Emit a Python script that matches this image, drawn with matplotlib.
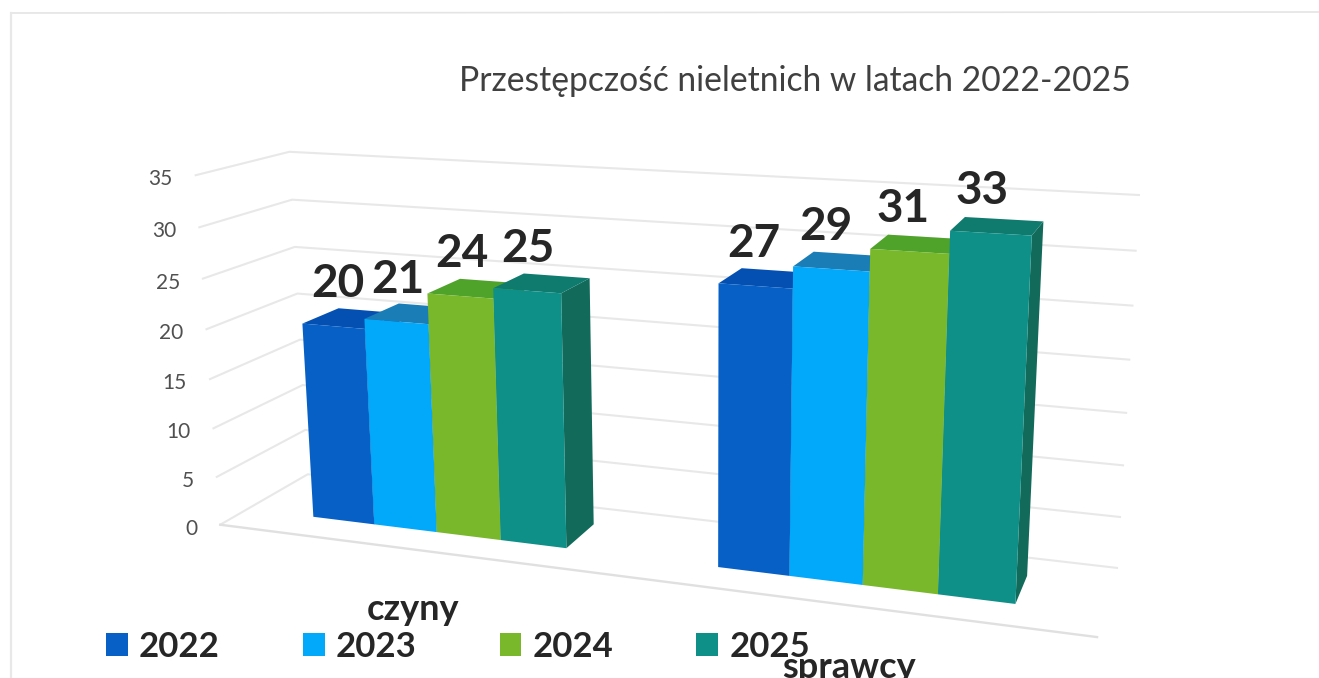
import matplotlib
matplotlib.use("Agg")
import matplotlib.pyplot as plt
import numpy as np
from matplotlib.patches import Patch, Polygon

categories = ["czyny", "sprawcy"]
years = ["2022", "2023", "2024", "2025"]
czyny = [20, 21, 24, 25]
sprawcy = [27, 29, 31, 33]
ticks = [0, 5, 10, 15, 20, 25, 30, 35]
title = "Przestępczość nieletnich w latach 2022-2025"

front_colors = ["#0660C6", "#02A8FA", "#78B82A", "#0E9088"]
top_colors = ["#0350B2", "#1A7DB6", "#4FA32B", "#0F7B6E"]
side_colors = ["#04479A", "#0B6FA8", "#4C8A20", "#126A5A"]

plt.rcParams["font.family"] = ["Lato", "DejaVu Sans"]

# rzutowanie perspektywiczne: (u, wartosc, glebokosc) -> piksele obrazu
v_max = ticks[-1]
anchors = [
    ((0, 0, 0), (220, 525)), ((0, v_max, 0), (196, 175)),
    ((0, 0, 1), (308, 474)), ((0, v_max, 1), (289, 152)),
    ((1, 0, 1), (1117, 568)), ((1, v_max, 1), (1139, 195)),
    ((1, 0, 0), (1097, 637)),
]
rows, rhs = [], []
for (u, v, w), (px, py) in anchors:
    rows.append([u, v, w, 1, 0, 0, 0, 0, -px * u, -px * v, -px * w])
    rows.append([0, 0, 0, 0, u, v, w, 1, -py * u, -py * v, -py * w])
    rhs += [px, py]
m = np.linalg.lstsq(np.array(rows, float), np.array(rhs, float), rcond=None)[0]
m = np.append(m, 1).reshape(3, 4)


def project(u, v, w):
    x, y, z = m @ np.array([u, v, w, 1.0])
    return x / z, y / z


fig = plt.figure(figsize=(13.19, 6.78), dpi=100)
ax = fig.add_axes([0, 0, 1, 1])
ax.set_xlim(0, 1319)
ax.set_ylim(678, 0)
ax.axis("off")

# slady skanu
ax.plot([11, 1319], [13, 12], color="#e4e4e4", lw=1.2, zorder=1)
ax.plot([11, 11], [13, 678], color="#e8e8e8", lw=1.6, zorder=1)

ax.text(795, 81, title, fontsize=24.2, color="#404040", ha="center", va="center")

# siatka
for t in ticks:
    pts = [project(0, t, 0), project(0, t, 1), project(1, t, 1)]
    ax.plot(*zip(*pts), color="#e8e8e8", lw=1.5, zorder=2)
    x, y = project(0, t, 0)
    ax.text(x - 23, y + 4, str(t), fontsize=15, color="#505050", ha="right", va="center")
ax.plot(*zip(project(0, 0, 0), project(1, 0, 0)), color="#e0e0e0", lw=1.7, zorder=2)

# slupki
group_starts = [0.0885, 0.589]
bar_w = 0.0805
depth = (0.3, 0.72)
for start, vals in zip(group_starts, [czyny, sprawcy]):
    for i, val in enumerate(vals):
        u0, u1 = start + i * bar_w, start + (i + 1) * bar_w
        d0, d1 = depth
        side = [project(u1, 0, d0), project(u1, 0, d1), project(u1, val, d1), project(u1, val, d0)]
        top = [project(u0, val, d0), project(u1, val, d0), project(u1, val, d1), project(u0, val, d1)]
        front = [project(u0, 0, d0), project(u1, 0, d0), project(u1, val, d0), project(u0, val, d0)]
        z = 3 + i * 0.1
        ax.add_patch(Polygon(side, fc=side_colors[i], ec="none", zorder=z))
        ax.add_patch(Polygon(top, fc=top_colors[i], ec="none", zorder=z))
        ax.add_patch(Polygon(front, fc=front_colors[i], ec="none", zorder=z))

# etykiety danych - przesuniete recznie jak na oryginale
label_dx = {20: 4, 21: 2, 24: 2, 25: 1, 27: -2, 29: -5, 31: -6, 33: -9}
for start, vals in zip(group_starts, [czyny, sprawcy]):
    for i, val in enumerate(vals):
        x, y = project(start + (i + 0.5) * bar_w, val, depth[0])
        ax.text(x + label_dx[val], y - 42, str(val), fontsize=33, fontweight="bold", color="#262626",
                ha="center", va="center", zorder=6)

ax.text(413, 610, categories[0], fontsize=26, fontweight="bold", color="#262626",
        ha="center", va="center", zorder=6)
ax.text(849, 668, categories[1], fontsize=26, fontweight="bold", color="#262626",
        ha="center", va="center", zorder=6)

handles = [Patch(fc=c, ec="none", label=y) for c, y in zip(front_colors, years)]
leg = ax.legend(handles=handles, ncols=4, loc="center left", bbox_to_anchor=(106, 647),
                bbox_transform=ax.transData, frameon=False, borderpad=0,
                borderaxespad=0, handlelength=0.63, handleheight=0.63, handletextpad=0.32,
                columnspacing=2.39, prop={"weight": "bold", "size": 25})
for txt in leg.get_texts():
    txt.set_color("#262626")

fig.savefig("out.png", dpi=100, facecolor="white")
